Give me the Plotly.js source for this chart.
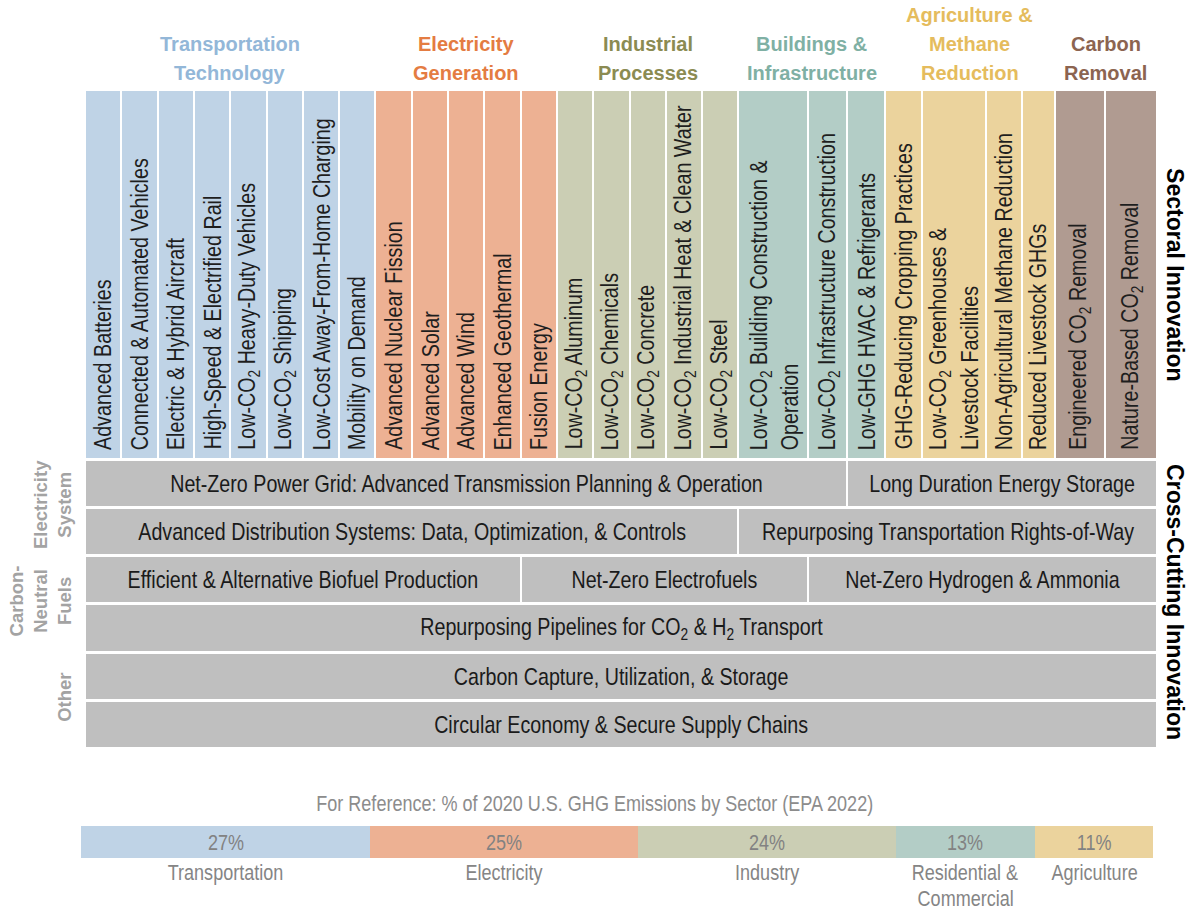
<!DOCTYPE html>
<html><head><meta charset="utf-8">
<script src="https://cdn.plot.ly/plotly-3.0.1.min.js"></script>
<style>html,body{margin:0;padding:0;background:#fff}#chart{width:1189px;height:909px}</style>
</head><body><div id="chart"></div>
<script>
// ================= DATA =================
const groupNames = ["Transportation<br>Technology", "Electricity<br>Generation", "Industrial<br>Processes",
  "Buildings &<br>Infrastructure", "Agriculture &<br>Methane<br>Reduction", "Carbon<br>Removal"];
const transportTech = ["Advanced Batteries", "Connected & Automated Vehicles", "Electric & Hybrid Aircraft",
  "High-Speed & Electrified Rail", "Low-CO<sub>2</sub> Heavy-Duty Vehicles", "Low-CO<sub>2</sub> Shipping",
  "Low-Cost Away-From-Home Charging", "Mobility on Demand"];
const electricityTech = ["Advanced Nuclear Fission", "Advanced Solar", "Advanced Wind", "Enhanced Geothermal", "Fusion Energy"];
const industrialTech = ["Low-CO<sub>2</sub> Aluminum", "Low-CO<sub>2</sub> Chemicals", "Low-CO<sub>2</sub> Concrete",
  "Low-CO<sub>2</sub> Industrial Heat & Clean Water", "Low-CO<sub>2</sub> Steel"];
const buildingsTech = ["Low-CO<sub>2</sub> Building Construction &<br>Operation", "Low-CO<sub>2</sub> Infrastructure Construction",
  "Low-GHG HVAC & Refrigerants"];
const agricultureTech = ["GHG-Reducing Cropping Practices", "Low-CO<sub>2</sub> Greenhouses &<br>Livestock Facilities",
  "Non-Agricultural Methane Reduction", "Reduced Livestock GHGs"];
const carbonRemovalTech = ["Engineered CO<sub>2</sub> Removal", "Nature-Based CO<sub>2</sub> Removal"];

// cross-cutting rows (top to bottom): [label, first column index, column index after last]
const crossRows = [
  [["Net-Zero Power Grid: Advanced Transmission Planning & Operation", 0, 20], ["Long Duration Energy Storage", 20, 27]],
  [["Advanced Distribution Systems: Data, Optimization, & Controls", 0, 18], ["Repurposing Transportation Rights-of-Way", 18, 27]],
  [["Efficient & Alternative Biofuel Production", 0, 12], ["Net-Zero Electrofuels", 12, 19], ["Net-Zero Hydrogen & Ammonia", 19, 27]],
  [["Repurposing Pipelines for CO<sub>2</sub> & H<sub>2</sub> Transport", 0, 27]],
  [["Carbon Capture, Utilization, & Storage", 0, 27]],
  [["Circular Economy & Secure Supply Chains", 0, 27]]
];
// cross-cutting row groups: [label, first row, last row]
const crossGroups = [["Electricity<br>System", 0, 1], ["Carbon-<br>Neutral<br>Fuels", 2, 3], ["Other", 4, 5]];
const sideTitles = ["Sectoral Innovation", "Cross-Cutting Innovation"];

const refTitle = "For Reference: % of 2020 U.S. GHG Emissions by Sector (EPA 2022)";
const refSectors = ["Transportation", "Electricity", "Industry", "Residential &<br>Commercial", "Agriculture"];
const refShares = [27, 25, 24, 13, 11];

// ================= STYLE / LAYOUT =================
const fillColors = ["#BFD3E6", "#EDB193", "#CBCEB4", "#B3CDC6", "#EBD39D", "#B09B91"];
const headColors = ["#93B7D8", "#E47C42", "#8B8B52", "#7FB0A4", "#E5BC5D", "#8C6450"];
const greyFill = "#BFBFBF";
const colUnits = [[1,1,1,1,1,1,1,1],[1,1,1,1,1],[1,1,1,1,1],[1.93,1.07,1.05],[1,1.76,1,0.9],[1.4,1.43]];
const W = 1189, H = 909;
const UX = 36.3, X0 = 86;     // px per column unit, left edge of grid
const UY = 48.2, Y0 = 747;    // px per row unit, bottom edge of grid
const gapX = 2 / UX, gapY = 3 / UY;
const SECT_H = 7.61;          // height of sectoral columns, in row units
const NROWS = crossRows.length;
const HEAD_PITCH = 29;        // px between header lines
const SECTOR_PITCH = 26;      // px between sector-label lines under the reference bar

function hasFont(name) {
  const c = document.createElement('canvas').getContext('2d');
  const s = 'Advanced Batteries WWmmii';
  c.font = '40px monospace'; const a = c.measureText(s).width;
  c.font = '40px "' + name + '", monospace'; const b = c.measureText(s).width;
  return Math.abs(a - b) > 0.5;
}
const narrowOK = hasFont('Liberation Sans Narrow');
const NARROW = narrowOK ? '"Liberation Sans Narrow", sans-serif' : '"Liberation Sans", Arial, sans-serif';
const SX = narrowOK ? 1 : 0.82;   // horizontal condensing applied to narrow texts when no narrow face exists
const SANS = '"Liberation Sans", Arial, sans-serif';

const annotations = [];
const narrowIdx = new Map();
function addNarrow(ann, origin) { narrowIdx.set(annotations.length, origin); annotations.push(ann); }

// ---- build columns ----
const techGroups = [transportTech, electricityTech, industrialTech, buildingsTech, agricultureTech, carbonRemovalTech];
const edges = [0];
const cols = [];
techGroups.forEach((labs, g) => labs.forEach((t, i) => {
  const l = edges[edges.length - 1], r = l + colUnits[g][i];
  cols.push({label: t, g: g, l: l, r: r});
  edges.push(r);
}));

const colTrace = {
  type: 'bar', x: cols.map(c => (c.l + c.r - gapX) / 2), width: cols.map(c => c.r - c.l - gapX),
  base: cols.map(() => NROWS), y: cols.map(() => SECT_H),
  marker: {color: cols.map(c => fillColors[c.g]), line: {width: 0}}, hoverinfo: 'skip', xaxis: 'x', yaxis: 'y'
};
cols.forEach(c => addNarrow({
  xref: 'x', yref: 'y', x: (c.l + c.r - gapX) / 2, y: NROWS + 6 / UY, xanchor: 'center', yanchor: 'bottom',
  text: c.label, textangle: -90, align: 'left', showarrow: false,
  font: {family: NARROW, size: 24, color: '#1E1E1E'}
}, 'start'));

// ---- group headers (one annotation per line, fixed line pitch) ----
techGroups.forEach((labs, g) => {
  const gc = cols.filter(c => c.g === g);
  const lines = groupNames[g].split('<br>');
  lines.forEach((ln, k) => annotations.push({
    xref: 'x', yref: 'y', x: (gc[0].l + gc[gc.length - 1].r - gapX) / 2, y: NROWS + SECT_H + 18 / UY,
    yshift: (lines.length - 1 - k) * HEAD_PITCH,
    xanchor: 'center', yanchor: 'middle', text: '<b>' + ln + '</b>', showarrow: false,
    font: {family: SANS, size: 20, color: headColors[g]}
  }));
});

// ---- cross-cutting rows ----
const segs = [];
crossRows.forEach((row, ri) => row.forEach(s => {
  const l = edges[s[1]], r = edges[s[2]] - gapX, base = NROWS - 1 - ri;
  segs.push({label: s[0], l: l, r: r, base: base});
}));
const rowTrace = {
  type: 'bar', x: segs.map(s => (s.l + s.r) / 2), width: segs.map(s => s.r - s.l),
  base: segs.map(s => s.base), y: segs.map(() => 1 - gapY),
  marker: {color: greyFill, line: {width: 0}}, hoverinfo: 'skip', xaxis: 'x', yaxis: 'y'
};
segs.forEach(s => addNarrow({
  xref: 'x', yref: 'y', x: (s.l + s.r) / 2, y: s.base + (1 - gapY) / 2, xanchor: 'center', yanchor: 'middle',
  text: s.label, showarrow: false, font: {family: NARROW, size: 24, color: '#1A1A1A'}
}, 'middle'));

// ---- row group labels (left) ----
crossGroups.forEach(cg => annotations.push({
  xref: 'x', yref: 'y', x: -9 / UX, y: NROWS - (cg[1] + cg[2] + 1 - gapY) / 2, xanchor: 'right', yanchor: 'middle',
  text: '<b>' + cg[0] + '</b>', textangle: -90, align: 'center', showarrow: false,
  font: {family: SANS, size: 18.5, color: '#A3A3A3'}
}));

// ---- side titles (right) ----
const lastEdge = edges[edges.length - 1];
[[NROWS + SECT_H / 2, sideTitles[0]], [NROWS / 2, sideTitles[1]]].forEach(st => annotations.push({
  xref: 'x', yref: 'y', x: lastEdge + 16 / UX, y: st[0], xanchor: 'center', yanchor: 'middle',
  text: '<b>' + st[1] + '</b>', textangle: 90, showarrow: false, font: {family: SANS, size: 23, color: '#000'}
}));

// ---- reference bar ----
const cum = []; refShares.reduce((a, v) => { cum.push(a); return a + v; }, 0);
const refTrace = {
  type: 'bar', orientation: 'h', x: refShares, base: cum, y: refShares.map(() => 0), width: 1,
  marker: {color: fillColors.slice(0, refShares.length), line: {width: 0}},
  hoverinfo: 'skip', xaxis: 'x2', yaxis: 'y2'
};
refShares.forEach((v, i) => addNarrow({
  xref: 'x2', yref: 'y2', x: cum[i] + v / 2, y: 0, xanchor: 'center', yanchor: 'middle',
  text: v + '%', showarrow: false, font: {family: NARROW, size: 22, color: '#828282'}
}, 'middle'));
refSectors.forEach((s, i) => s.split('<br>').forEach((ln, k) => addNarrow({
  xref: 'x2', yref: 'y2', x: cum[i] + refShares[i] / 2, y: -0.5, xanchor: 'center', yanchor: 'middle',
  yshift: -(14 + k * SECTOR_PITCH),
  text: ln, showarrow: false, font: {family: NARROW, size: 22, color: '#858585'}
}, 'middle')));
addNarrow({
  xref: 'paper', yref: 'paper', x: 0.5, y: (H - 803) / H, xanchor: 'center', yanchor: 'middle',
  text: refTitle, showarrow: false, font: {family: NARROW, size: 22, color: '#8C8C8C'}
}, 'middle');

const layout = {
  width: W, height: H, margin: {l: 0, r: 0, t: 0, b: 0}, showlegend: false,
  paper_bgcolor: '#fff', plot_bgcolor: '#fff', barmode: 'overlay', bargap: 0,
  xaxis: {range: [-X0 / UX, (W - X0) / UX], domain: [0, 1], visible: false, fixedrange: true},
  yaxis: {range: [-(H - Y0) / UY, Y0 / UY], domain: [0, 1], visible: false, fixedrange: true},
  xaxis2: {range: [0, 100], domain: [81 / W, 1153 / W], anchor: 'y2', visible: false},
  yaxis2: {range: [-0.5, 0.5], domain: [(H - 858) / H, (H - 826) / H], anchor: 'x2', visible: false},
  annotations: annotations
};
Plotly.newPlot('chart', [colTrace, rowTrace, refTrace], layout, {staticPlot: true, displayModeBar: false})
  .then(() => {
    if (SX === 1) return;
    document.querySelectorAll('#chart g.annotation').forEach(g => {
      const i = +g.getAttribute('data-index');
      if (!narrowIdx.has(i)) return;
      const t = g.querySelector('text.annotation-text');
      if (!t) return;
      const bb = t.getBBox();
      const x0 = narrowIdx.get(i) === 'start' ? bb.x : bb.x + bb.width / 2;
      const prev = t.getAttribute('transform') || '';
      t.setAttribute('transform', (prev + ' translate(' + x0 + ',0) scale(' + SX + ',1) translate(' + (-x0) + ',0)').trim());
    });
  });
</script>
</body></html>
